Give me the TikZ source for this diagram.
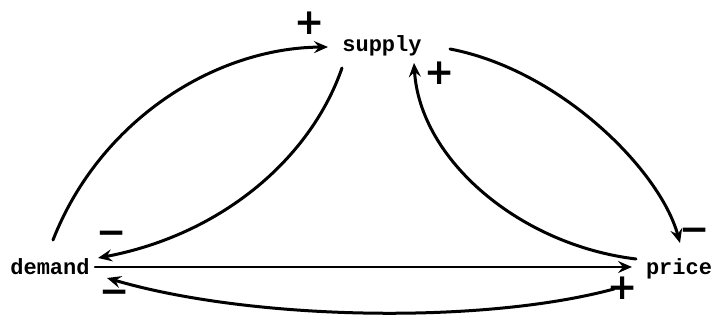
\documentclass[tikz,border=0pt]{standalone}
\usepackage{fontspec}
\setmonofont{Liberation Mono}
\newfontfamily\signfont{DejaVu Sans}
\usetikzlibrary{arrows.meta,calc}
\begin{document}
\begin{tikzpicture}[x=1pt,y=-1pt,
  lbl/.style={font=\ttfamily\bfseries\fontsize{22}{22}\selectfont, inner sep=0pt, anchor=base},
  sgn/.style={font=\signfont\bfseries\fontsize{36}{36}\selectfont, inner sep=0pt},
  link/.style={line width=3pt, line cap=round, -{Stealth[length=14pt,width=12pt,inset=5pt]}}]
\useasboundingbox (0,0) rectangle (712,320);
\node[lbl] (supply) at (382,52) {supply};
\node[lbl] (demand) at (50,275) {demand};
\node[lbl] (price) at (679,275) {price};
% connectors
\draw[link] ($(demand.base)+(3,-35)$) .. controls (100,120) and (215,48) .. ($(supply.base)+(-54,-5)$);
\draw[link] ($(supply.base)+(-40,16)$) .. controls (310,160) and (220,235) .. ($(demand.base)+(48,-17)$);
\draw[link] ($(supply.base)+(68,-3)$) .. controls (560,70) and (660,170) .. ($(price.base)+(1,-32)$);
\draw[link] ($(price.base)+(-43,-16)$) .. controls (520,245) and (420,160) .. ($(supply.base)+(32,11)$);
\draw[link, line width=2.5pt] ($(demand.base)+(45,-8)$) -- ($(price.base)+(-47,-8)$);
\draw[link] ($(price.base)+(-65,14)$) .. controls (480,325) and (250,320) .. ($(demand.base)+(57,3)$);
% signs
\node[sgn] (p1) at (310,23) {+};
\node[sgn] (m1) at (112,238) {−};
\node[sgn] (m2) at (115,297) {−};
\node[sgn] (p2) at (440,73) {+};
\node[sgn] (m3) at (695,235) {−};
\node[sgn] (p3) at (623,288) {+};
\end{tikzpicture}
\end{document}
